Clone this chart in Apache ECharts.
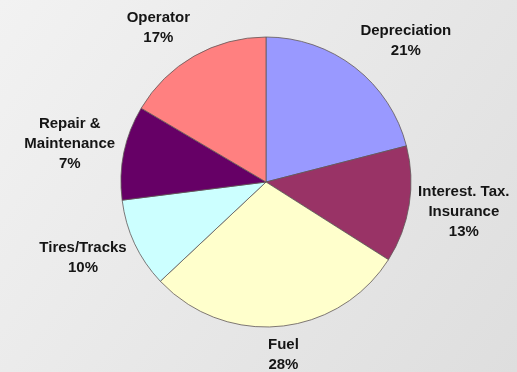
<!DOCTYPE html>
<html>
<head>
<meta charset="utf-8">
<script src="https://cdn.jsdelivr.net/npm/echarts@6/dist/echarts.min.js"></script>
<style>
  html, body { margin: 0; padding: 0; }
  #chart { width: 517px; height: 372px; }
</style>
</head>
<body>
<div id="chart"></div>
<script>
// slice names (clockwise from 12 o'clock)
const categories = ['Depreciation', 'Interest. Tax.\nInsurance', 'Fuel', 'Tires/Tracks', 'Repair &\nMaintenance', 'Operator'];
// slice sizes as drawn
const sliceValues = [21, 13, 29, 10, 10.5, 16.5];
// percentages printed on the labels
const pctLabels = ['21%', '13%', '28%', '10%', '7%', '17%'];
const sliceColors = ['#9999ff', '#993366', '#ffffcc', '#ccffff', '#660066', '#ff8080'];

const cx = 266, cy = 182, radius = 145;

const chart = echarts.init(document.getElementById('chart'));

const total = sliceValues.reduce(function (a, b) { return a + b; }, 0);

// mid angle of a slice, clockwise from top, in radians
function midAngle(idx) {
  let acc = 0;
  for (let i = 0; i < idx; i++) acc += sliceValues[i];
  return (acc + sliceValues[idx] / 2) / total * Math.PI * 2;
}

function clamp1(v) {
  return Math.max(-1, Math.min(1, v));
}

const option = {
  backgroundColor: new echarts.graphic.LinearGradient(0, 0, 1, 1, [
    { offset: 0, color: '#f2f2f2' },
    { offset: 1, color: '#dedede' }
  ]),
  animation: false,
  series: [
    {
      type: 'pie',
      center: [cx, cy],
      radius: radius,
      startAngle: 90,
      clockwise: true,
      avoidLabelOverlap: false,
      itemStyle: {
        borderColor: '#615858',
        borderWidth: 0.8
      },
      label: {
        show: true,
        position: 'outside',
        fontFamily: 'Liberation Sans, Arial, sans-serif',
        fontWeight: 'bold',
        fontSize: 15,
        lineHeight: 20,
        color: '#151515',
        formatter: function (p) {
          return p.name + '\n' + pctLabels[p.dataIndex];
        }
      },
      labelLine: { show: false },
      // excel-like placement: anchor just outside the rim at the mid angle,
      // label box hangs off that anchor on the outer side
      labelLayout: function (params) {
        const a = midAngle(params.dataIndex);
        const ux = Math.sin(a), uy = -Math.cos(a);
        const w = params.labelRect.width, h = params.labelRect.height;
        const px = cx + ux * (radius + 9);
        const py = cy + uy * (radius + 9);
        return {
          x: px + clamp1(ux * 2) * w / 2,
          y: py + clamp1(uy * 1.2) * h / 2,
          align: 'center',
          verticalAlign: 'middle'
        };
      },
      data: categories.map(function (name, i) {
        return { name: name, value: sliceValues[i], itemStyle: { color: sliceColors[i] } };
      })
    }
  ]
};

option && chart.setOption(option);
</script>
</body>
</html>
